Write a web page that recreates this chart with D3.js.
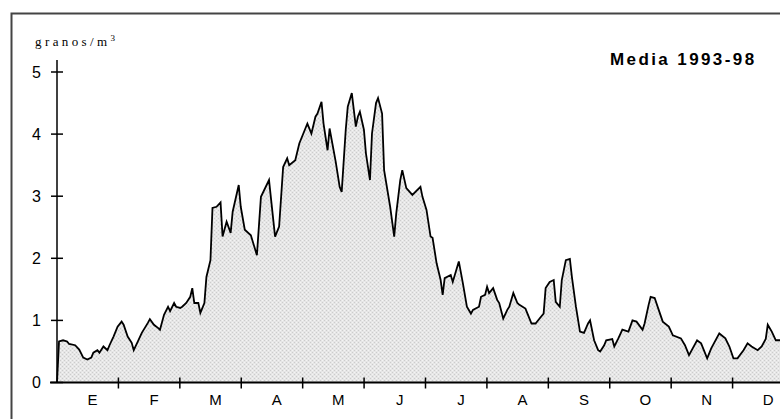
<!DOCTYPE html>
<html>
<head>
	<meta charset="utf-8">
	<title>Media 1993-98</title>
	<script src="https://d3js.org/d3.v7.min.js"></script>
	<style>
		body { margin: 0; background: #fff; }
	</style>
</head>
<body>
	<div class="chart"></div>

	<script type="text/javascript">

		// día del año (0-365) y concentración media (granos/m3)
		var days = [0, 1, 3, 5, 6, 9, 11, 13, 15, 17, 18, 20, 21, 23, 25, 26, 28, 30, 32, 33, 35, 37, 38, 40, 42, 45, 46, 48, 50, 51,
			53, 55, 56, 58, 59, 61, 62, 64, 66, 67, 68, 70, 71, 73, 74, 76, 77, 79, 81, 82, 84, 86, 87, 90, 91, 93, 96, 99, 101, 105,
			108, 110, 112, 114, 115, 118, 120, 123, 124, 126, 128, 129, 131, 132, 134, 135, 138, 140, 141, 143, 144, 146, 148, 149, 150, 152, 153, 155, 156, 158,
			159, 161, 162, 165, 167, 168, 170, 171, 173, 176, 180, 181, 183, 185, 186, 188, 190, 191, 192, 195, 196, 199, 201, 203, 205, 206, 209, 210, 212, 213,
			214, 216, 218, 219, 221, 223, 224, 226, 228, 229, 232, 233, 235, 237, 239, 241, 242, 244, 246, 247, 249, 250, 252, 254, 255, 257, 259, 261, 263, 264,
			266, 268, 269, 271, 272, 275, 276, 278, 280, 283, 285, 287, 290, 291, 293, 294, 296, 298, 300, 303, 305, 309, 311, 313, 317, 319, 322, 324, 328, 331,
			333, 335, 337, 340, 342, 344, 347, 349, 351, 352, 354, 356, 358, 362, 365]
		var granos = [0.0, 0.66, 0.68, 0.66, 0.62, 0.60, 0.53, 0.40, 0.37, 0.40, 0.48, 0.52, 0.48, 0.58, 0.52, 0.60, 0.74, 0.90, 0.98, 0.93, 0.74, 0.64, 0.52, 0.66, 0.80, 0.96, 1.02, 0.93, 0.88, 0.85,
			1.09, 1.22, 1.15, 1.28, 1.22, 1.20, 1.22, 1.28, 1.38, 1.52, 1.28, 1.28, 1.12, 1.28, 1.70, 1.97, 2.81, 2.83, 2.90, 2.35, 2.59, 2.41, 2.75, 3.18, 2.83, 2.46, 2.37, 2.05, 2.99, 3.26,
			2.35, 2.51, 3.47, 3.61, 3.50, 3.58, 3.85, 4.09, 4.17, 4.01, 4.28, 4.33, 4.52, 4.17, 3.74, 4.09, 3.56, 3.15, 3.07, 4.07, 4.44, 4.66, 4.12, 4.28, 4.36, 4.07, 3.69, 3.26, 4.01, 4.50,
			4.58, 4.33, 3.42, 2.83, 2.35, 2.72, 3.26, 3.42, 3.13, 3.02, 3.15, 2.99, 2.78, 2.35, 2.33, 1.92, 1.65, 1.41, 1.68, 1.73, 1.62, 1.95, 1.60, 1.22, 1.11, 1.17, 1.22, 1.38, 1.41, 1.54,
			1.44, 1.52, 1.33, 1.28, 1.03, 1.17, 1.22, 1.44, 1.28, 1.25, 1.19, 1.11, 0.95, 0.95, 1.03, 1.11, 1.52, 1.62, 1.65, 1.30, 1.22, 1.65, 1.97, 1.99, 1.70, 1.22, 0.82, 0.80, 0.95, 1.00,
			0.68, 0.52, 0.50, 0.60, 0.68, 0.70, 0.58, 0.71, 0.85, 0.82, 1.00, 0.98, 0.85, 0.95, 1.25, 1.38, 1.36, 1.17, 0.98, 0.90, 0.76, 0.71, 0.60, 0.44, 0.68, 0.63, 0.39, 0.55, 0.79, 0.71,
			0.58, 0.39, 0.39, 0.52, 0.63, 0.58, 0.52, 0.58, 0.70, 0.93, 0.82, 0.68, 0.68, 0.65, 0.60]

		var months = ['E', 'F', 'M', 'A', 'M', 'J', 'J', 'A', 'S', 'O', 'N', 'D']
		var yTicks = [0, 1, 2, 3, 4, 5]

		var width = 780
		var height = 419

		var svg = d3
			.select('.chart')
			.append('svg')
			.attr('width', width)
			.attr('height', height)
			.style('display', 'block')

		// trama punteada del área
		var defs = svg.append('defs')
		var pat = defs.append('pattern')
			.attr('id', 'trama')
			.attr('patternUnits', 'userSpaceOnUse')
			.attr('width', 4)
			.attr('height', 4)
		pat.append('rect').attr('width', 4).attr('height', 4).attr('fill', '#e6e6e6')
		pat.append('rect').attr('x', 0).attr('y', 0).attr('width', 1).attr('height', 1).attr('fill', '#cccccc')
		pat.append('rect').attr('x', 2).attr('y', 2).attr('width', 1).attr('height', 1).attr('fill', '#cccccc')
		pat.append('rect').attr('x', 2).attr('y', 0).attr('width', 1).attr('height', 1).attr('fill', '#f4f4f4')
		pat.append('rect').attr('x', 0).attr('y', 2).attr('width', 1).attr('height', 1).attr('fill', '#f4f4f4')

		// marco
		svg.append('rect')
			.attr('x', 11.5)
			.attr('y', 13.5)
			.attr('width', 820)
			.attr('height', 440)
			.attr('fill', 'none')
			.attr('stroke', '#444')
			.attr('stroke-width', 2)

		/**
		 * escalas
		 */
		var x0 = 57, x1 = 794
		var dayScale = d3.scaleLinear().domain([0, 365]).range([x0, x1])
		var monthScale = d3.scaleLinear().domain([0, 12]).range([x0, x1])
		var yScale = d3.scaleLinear().domain([0, 5]).range([382.5, 72])

		var data = days.map((d, i) => ({ day: d, value: granos[i] }))

		var area = d3.area()
			.x((d) => dayScale(d.day))
			.y0(yScale(0))
			.y1((d) => yScale(d.value))

		var line = d3.line()
			.x((d) => dayScale(d.day))
			.y((d) => yScale(d.value))

		svg.append('path')
			.datum(data)
			.attr('d', area)
			.attr('fill', 'url(#trama)')

		svg.append('path')
			.datum(data)
			.attr('d', line)
			.attr('fill', 'none')
			.attr('stroke', '#000')
			.attr('stroke-width', 1.8)
			.attr('stroke-linejoin', 'miter')

		/**
		 * eje Y
		 */
		var yAxis = svg.append('g').attr('transform', `translate(${x0}, 0)`)
		yAxis.append('line')
			.attr('x1', 0).attr('x2', 0)
			.attr('y1', 60).attr('y2', yScale(0))
			.attr('stroke', '#000').attr('stroke-width', 1.5)
		yAxis.selectAll('.ytick')
			.data(yTicks)
			.enter()
			.append('line')
			.attr('x1', -6).attr('x2', 6)
			.attr('y1', (d) => yScale(d)).attr('y2', (d) => yScale(d))
			.attr('stroke', '#000').attr('stroke-width', 1.5)
		yAxis.selectAll('.ylab')
			.data(yTicks)
			.enter()
			.append('text')
			.attr('x', -16)
			.attr('y', (d) => yScale(d))
			.attr('dy', '0.36em')
			.attr('text-anchor', 'end')
			.style('font-family', 'Liberation Sans, Arial, sans-serif')
			.style('font-size', '16px')
			.text((d) => d)

		/**
		 * eje X
		 */
		var xAxis = svg.append('g').attr('transform', `translate(0, ${yScale(0)})`)
		xAxis.append('line')
			.attr('x1', 50).attr('x2', width)
			.attr('y1', 0).attr('y2', 0)
			.attr('stroke', '#000').attr('stroke-width', 2)
		xAxis.selectAll('.xtick')
			.data(d3.range(1, 13))
			.enter()
			.append('line')
			.attr('x1', (d) => monthScale(d)).attr('x2', (d) => monthScale(d))
			.attr('y1', -5).attr('y2', 6)
			.attr('stroke', '#000').attr('stroke-width', 1.5)
		xAxis.selectAll('.xlab')
			.data(months)
			.enter()
			.append('text')
			.attr('x', (d, i) => monthScale(i + 0.58))
			.attr('y', 22)
			.attr('text-anchor', 'middle')
			.style('font-family', 'Liberation Sans, Arial, sans-serif')
			.style('font-size', '15px')
			.text((d) => d)

		/**
		 * textos
		 */
		var ylabel = svg.append('text')
			.attr('x', 35)
			.attr('y', 46)
			.style('font-family', 'Liberation Serif, Times New Roman, serif')
			.style('font-size', '13px')
			.style('letter-spacing', '3.4px')
		ylabel.append('tspan').text('granos/m')
		ylabel.append('tspan').attr('dy', -5).style('font-size', '9px').text('3')

		svg.append('text')
			.attr('x', 610)
			.attr('y', 65)
			.style('font-family', 'Liberation Sans, Arial, sans-serif')
			.style('font-size', '17px')
			.style('font-weight', 'bold')
			.style('letter-spacing', '2.4px')
			.text('Media 1993-98')

	</script>
</body>
</html>
